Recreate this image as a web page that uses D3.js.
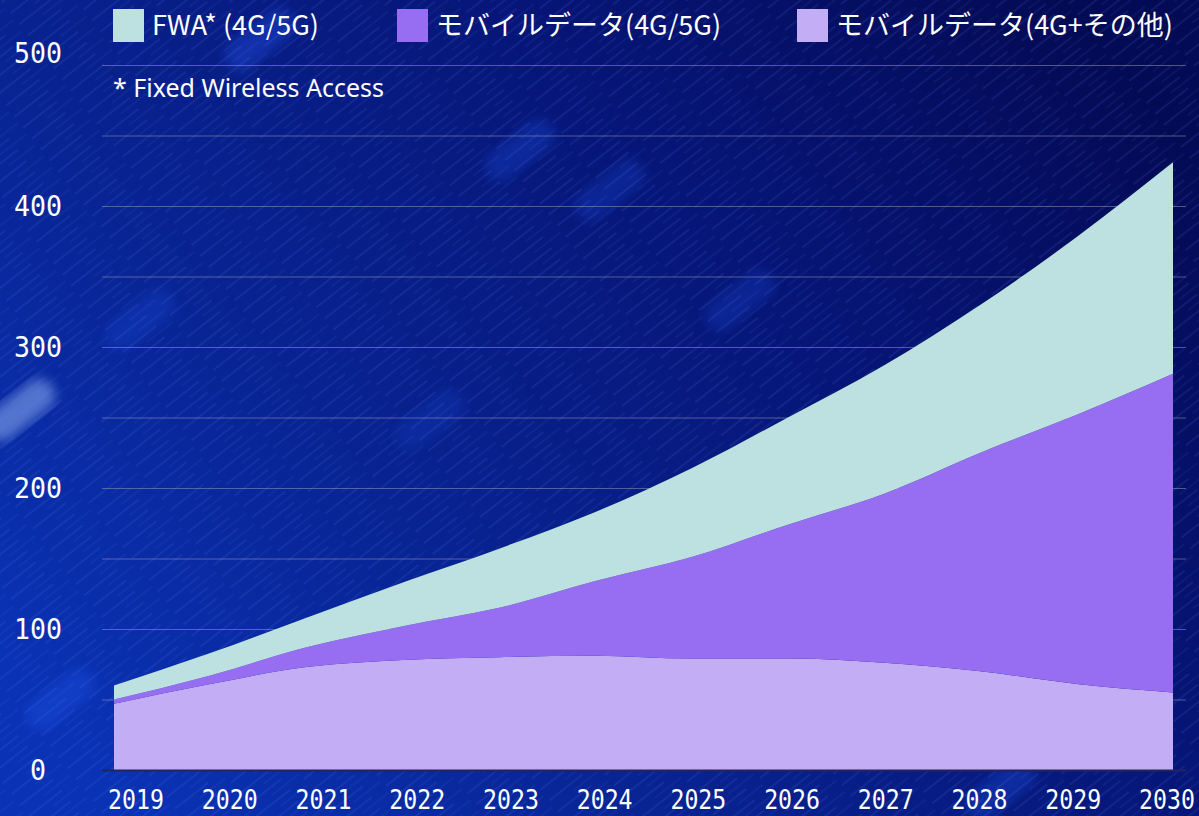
<!DOCTYPE html>
<html>
<head>
<meta charset="utf-8">
<script src="https://cdn.jsdelivr.net/npm/d3@7"></script>
<style>
  html, body { margin: 0; padding: 0; background: #06126a; }
  svg { display: block; }
</style>
</head>
<body>
<div id="chart"></div>
<script>
// data (stacked values)
var years = [2019, 2020, 2021, 2022, 2023, 2024, 2025, 2026, 2027, 2028, 2029, 2030];
var mobileOther = [47, 61, 73, 78, 80, 81, 79, 79, 76, 70, 61, 55];      // モバイルデータ(4G+その他)
var mobile5g    = [3, 6, 14, 24, 35, 53, 72, 95, 120, 155, 191, 226];   // モバイルデータ(4G/5G)
var fwa         = [10, 16, 21, 31, 42, 49, 63, 76, 91, 105, 126, 150];  // FWA* (4G/5G)
var yTicks = [0, 100, 200, 300, 400, 500];
var gridTicks = [0, 50, 100, 150, 200, 250, 300, 350, 400, 450, 500];
var seriesNames = ["FWA* (4G/5G)", "モバイルデータ(4G/5G)", "モバイルデータ(4G+その他)"];
var seriesKeys = ["other", "g5", "fwa"];
var colors = {fwa: "#bde1e0", g5: "#976df2", other: "#c3adf5"};

var W = 1199, H = 816;

var svg = d3.select("#chart").append("svg")
    .attr("width", W)
    .attr("height", H);

var defs = svg.append("defs");

// background
var bg = defs.append("linearGradient").attr("id", "bg")
    .attr("x1", "0").attr("y1", "0.8").attr("x2", "1").attr("y2", "0.2");
bg.append("stop").attr("offset", "0%").attr("stop-color", "#0a32b4");
bg.append("stop").attr("offset", "35%").attr("stop-color", "#08228f");
bg.append("stop").attr("offset", "70%").attr("stop-color", "#061474");
bg.append("stop").attr("offset", "100%").attr("stop-color", "#040b55");

var streak = defs.append("pattern").attr("id", "streak")
    .attr("width", 60).attr("height", 14)
    .attr("patternUnits", "userSpaceOnUse")
    .attr("patternTransform", "rotate(-38)");
streak.append("line")
    .attr("x1", 0).attr("y1", 3).attr("x2", 42).attr("y2", 3)
    .attr("stroke", "#5f7dff").attr("stroke-opacity", 0.25).attr("stroke-width", 1);
streak.append("line")
    .attr("x1", 25).attr("y1", 10).attr("x2", 58).attr("y2", 10)
    .attr("stroke", "#5f7dff").attr("stroke-opacity", 0.15).attr("stroke-width", 1);

defs.append("filter").attr("id", "blur")
    .append("feGaussianBlur").attr("stdDeviation", 6);

svg.append("rect").attr("width", W).attr("height", H).attr("fill", "url(#bg)");

// soft light blobs in the background
var blobs = [[20, 410, 0.55, "#8fb0f0"], [260, 40, 0.3, "#2a60ff"], [520, 150, 0.3, "#1f4fe0"],
             [610, 190, 0.25, "#1f4fe0"], [140, 320, 0.25, "#1f4fe0"], [740, 300, 0.25, "#1f4fe0"],
             [60, 700, 0.35, "#1d55e8"], [430, 420, 0.2, "#1f4fe0"], [1000, 790, 0.3, "#1d55e8"]];
svg.append("g").selectAll("rect").data(blobs).enter().append("rect")
    .attr("x", -40).attr("y", -16).attr("width", 80).attr("height", 32).attr("rx", 16)
    .attr("transform", function(d) { return "translate(" + d[0] + "," + d[1] + ") rotate(-38)"; })
    .attr("fill", function(d) { return d[3]; })
    .attr("opacity", function(d) { return d[2]; })
    .attr("filter", "url(#blur)");

svg.append("rect").attr("width", W).attr("height", H).attr("fill", "url(#streak)");

// scales
var x = d3.scalePoint().domain(years).range([114, 1173]);
var xLab = d3.scalePoint().domain(years).range([136, 1167]);
var y = d3.scaleLinear().domain([0, 500]).range([770, 65]);

// gridlines
svg.append("g").selectAll("line").data(gridTicks).enter().append("line")
    .attr("x1", 102).attr("x2", 1186)
    .attr("y1", function(d) { return y(d) + 0.5; })
    .attr("y2", function(d) { return y(d) + 0.5; })
    .attr("stroke", "#a0a0b8").attr("stroke-opacity", 0.5).attr("stroke-width", 1);

// stacked areas
var rows = years.map(function(yr, i) {
    return {year: yr, other: mobileOther[i], g5: mobile5g[i], fwa: fwa[i]};
});
var stack = d3.stack().keys(seriesKeys)(rows);

var area = d3.area()
    .curve(d3.curveMonotoneX)
    .x(function(d) { return x(d.data.year); })
    .y0(function(d) { return y(d[0]); })
    .y1(function(d) { return y(d[1]); });

svg.append("g").selectAll("path").data(stack).enter().append("path")
    .attr("d", area)
    .attr("fill", function(d) { return colors[d.key]; });

// baseline
svg.append("line")
    .attr("x1", 102).attr("x2", 1186)
    .attr("y1", y(0) + 0.5).attr("y2", y(0) + 0.5)
    .attr("stroke", "#22245a").attr("stroke-width", 2);

// y labels (top one sits a little above its gridline)
svg.append("g").selectAll("text").data(yTicks).enter().append("text")
    .attr("transform", function(d) {
        var yy = y(d) - (d === 500 ? 12 : 0);
        return "translate(38," + yy + ") scale(0.95,1)";
    })
    .attr("dy", "0.36em")
    .attr("text-anchor", "middle")
    .attr("font-family", "DejaVu Sans Mono, monospace")
    .attr("font-size", "28px")
    .attr("fill", "#ffffff")
    .text(String);

// x labels
svg.append("g").selectAll("text").data(years).enter().append("text")
    .attr("transform", function(d) { return "translate(" + xLab(d) + ",809) scale(0.86,1)"; })
    .attr("text-anchor", "middle")
    .attr("font-family", "DejaVu Sans Mono, monospace")
    .attr("font-size", "27px")
    .attr("fill", "#ffffff")
    .text(String);

// legend
var legendX = [113, 397, 797];
var legendColors = [colors.fwa, colors.g5, colors.other];
var lg = svg.append("g").selectAll("g").data(seriesNames).enter().append("g")
    .attr("transform", function(d, i) { return "translate(" + legendX[i] + ",0)"; });
lg.append("rect")
    .attr("x", 0).attr("y", 9).attr("width", 31).attr("height", 33)
    .attr("fill", function(d, i) { return legendColors[i]; });
lg.append("text")
    .attr("x", 39).attr("y", 35)
    .attr("font-family", "Noto Sans CJK JP, Noto Sans, sans-serif")
    .attr("font-size", "27px")
    .attr("fill", "#ffffff")
    .text(String);

svg.append("text")
    .attr("x", 113).attr("y", 97)
    .attr("font-family", "Noto Sans, sans-serif")
    .attr("font-size", "25px")
    .attr("fill", "#ffffff")
    .text("* Fixed Wireless Access");
</script>
</body>
</html>
